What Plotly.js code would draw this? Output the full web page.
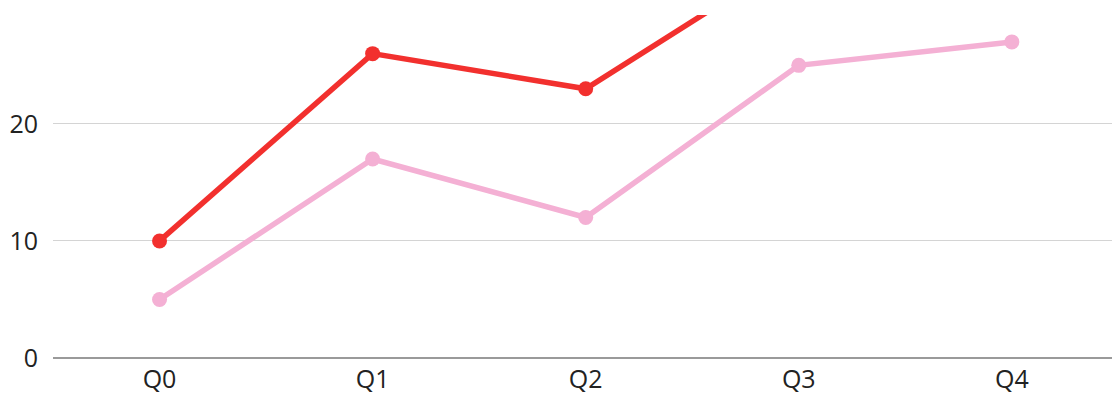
<!DOCTYPE html>
<html><head><meta charset="utf-8">
<script src="https://cdn.plot.ly/plotly-3.0.1.min.js"></script>
<style>html,body{margin:0;padding:0;background:#fff;}#chart{width:1112px;height:396px;}</style>
</head><body><div id="chart"></div>
<script>
const categories = ["Q0", "Q1", "Q2", "Q3", "Q4"];
const seriesRed = [10, 26, 23, 34.5, 36];
const seriesPink = [5, 17, 12, 25, 27];
const yTicks = [0, 10, 20];

const traces = [
  {x: categories, y: seriesPink, type: 'scatter', mode: 'lines+markers', name: 'B',
   line: {color: '#F4B0D4', width: 5.5}, marker: {color: '#F4B0D4', size: 15}, cliponaxis: true},
  {x: categories, y: seriesRed, type: 'scatter', mode: 'lines+markers', name: 'A',
   line: {color: '#F2302E', width: 5.5}, marker: {color: '#F2302E', size: 15}, cliponaxis: true}
];
const layout = {
  width: 1112, height: 396,
  margin: {l: 53, r: 0, t: 15, b: 38},
  paper_bgcolor: '#fff', plot_bgcolor: '#fff',
  showlegend: false,
  font: {family: '"Open Sans", "Noto Sans", sans-serif', size: 25, color: '#222'},
  xaxis: {type: 'category', range: [-0.5, 4.47], showgrid: false, zeroline: false,
          showline: false, ticks: '', ticklabelstandoff: 4, tickfont: {size: 25, color: '#222'}},
  yaxis: {range: [0, 29.3], tickvals: yTicks, ticktext: yTicks.map(String), showgrid: true,
          gridcolor: '#d4d4d4', gridwidth: 1, zeroline: true, zerolinecolor: '#9a9a9a', zerolinewidth: 1.5,
          showline: false, ticks: '', ticklabelstandoff: 14, tickfont: {size: 25, color: '#222'}}
};
Plotly.newPlot('chart', traces, layout, {displayModeBar: false, staticPlot: true});
</script></body></html>
